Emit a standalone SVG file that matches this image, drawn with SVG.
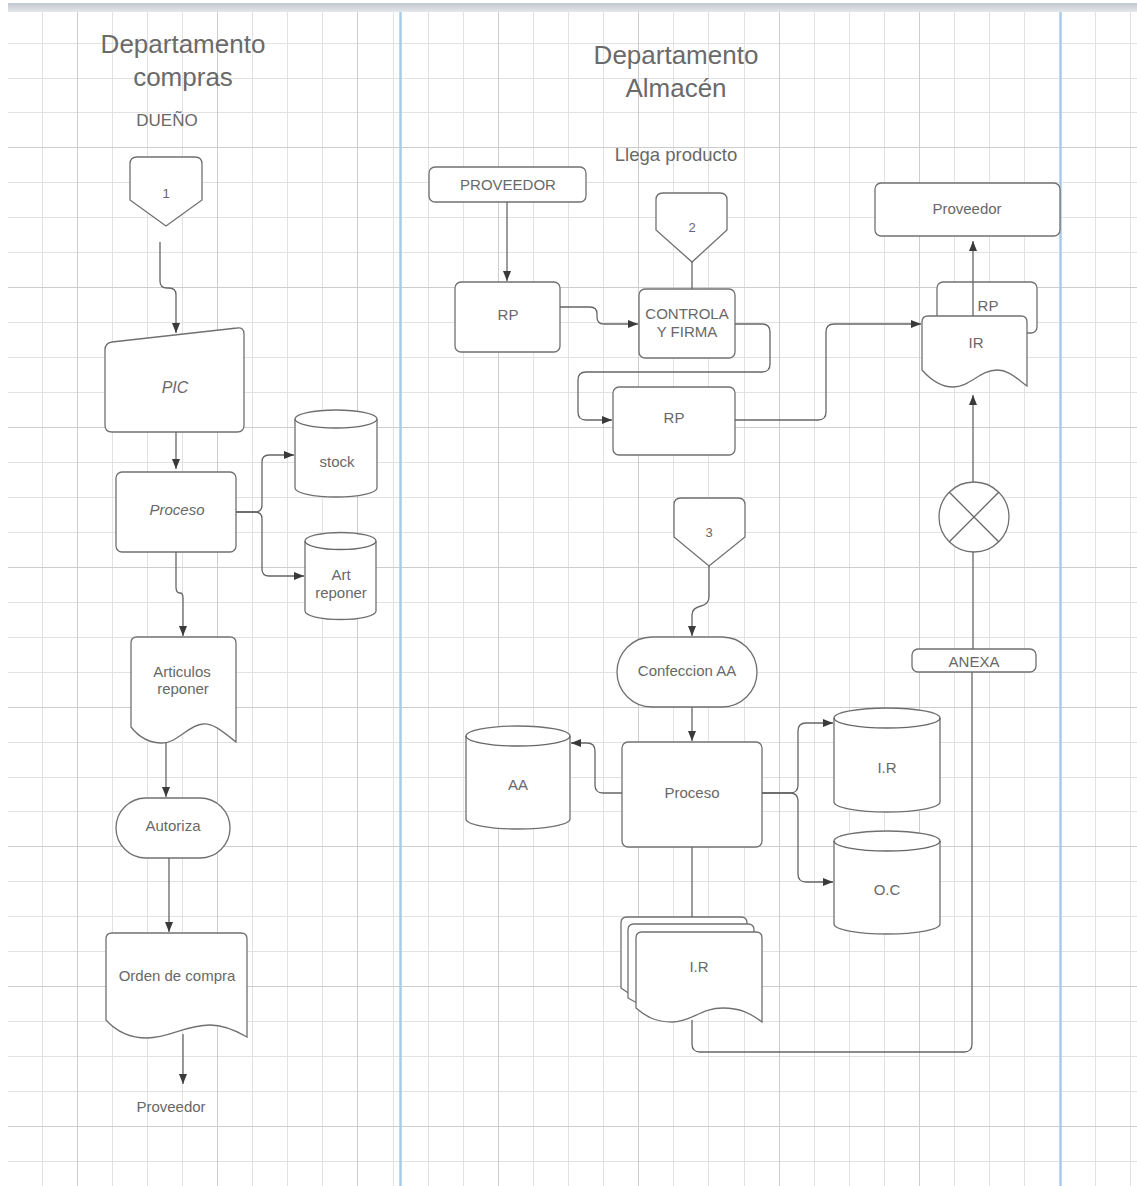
<svg xmlns="http://www.w3.org/2000/svg" width="1137" height="1186" viewBox="0 0 1137 1186">
  <defs>
    <marker id="ah" viewBox="0 0 10 8" refX="10" refY="4" markerWidth="10" markerHeight="8" markerUnits="userSpaceOnUse" orient="auto">
      <path d="M0,0 L10,4 L0,8 Z" fill="#3a3a3a"/>
    </marker>
    <linearGradient id="band" x1="0" y1="0" x2="0" y2="1">
      <stop offset="0" stop-color="#c3c8cf"/>
      <stop offset="1" stop-color="#e4e7eb"/>
    </linearGradient>
  </defs>
  <style>
    .minor { stroke:#e2e2e2; stroke-width:1; fill:none }
    .major { stroke:#cdcdcd; stroke-width:1; fill:none }
    .lane { stroke:#a9cbe9; stroke-width:2.5; fill:none }
    .n { fill:#fff; stroke:#707070; stroke-width:1.3 }
    .t { font-family:"Liberation Sans", Arial, sans-serif; font-size:15px; fill:#686868; text-anchor:middle }
    .h { font-family:"Liberation Sans", Arial, sans-serif; font-size:26px; fill:#6a6a6a; text-anchor:middle }
    .i { font-style:italic }
    .c { fill:none; stroke:#666; stroke-width:1.3; marker-end:url(#ah) }
    .p { fill:none; stroke:#666; stroke-width:1.3 }
  </style>

  <!-- page background and grid -->
  <rect x="0" y="0" width="1137" height="1186" fill="#fff"/>
  <g id="grid">
    <path class="minor" d="M42.5,12V1186 M112.5,12V1186 M147.5,12V1186 M182.5,12V1186 M252.5,12V1186 M287.5,12V1186 M322.5,12V1186 M393.5,12V1186 M428.5,12V1186 M463.5,12V1186 M533.5,12V1186 M568.5,12V1186 M603.5,12V1186 M673.5,12V1186 M708.5,12V1186 M744.5,12V1186 M814.5,12V1186 M849.5,12V1186 M884.5,12V1186 M954.5,12V1186 M989.5,12V1186 M1024.5,12V1186 M1095.5,12V1186 M1130.5,12V1186"/>
    <path class="minor" d="M8,43.5H1137 M8,78.5H1137 M8,112.5H1137 M8,182.5H1137 M8,217.5H1137 M8,252.5H1137 M8,322.5H1137 M8,357.5H1137 M8,392.5H1137 M8,462.5H1137 M8,497.5H1137 M8,532.5H1137 M8,602.5H1137 M8,637.5H1137 M8,672.5H1137 M8,742.5H1137 M8,777.5H1137 M8,811.5H1137 M8,881.5H1137 M8,916.5H1137 M8,951.5H1137 M8,1021.5H1137 M8,1056.5H1137 M8,1091.5H1137 M8,1161.5H1137"/>
    <path class="major" d="M77.5,12V1186 M217.5,12V1186 M357.5,12V1186 M498.5,12V1186 M638.5,12V1186 M779.5,12V1186 M919.5,12V1186"/>
    <path class="major" d="M8,147.5H1137 M8,287.5H1137 M8,427.5H1137 M8,567.5H1137 M8,707.5H1137 M8,846.5H1137 M8,986.5H1137 M8,1126.5H1137"/>
  </g>
  <rect x="8" y="3" width="1129" height="9" fill="url(#band)"/>
  <!-- swimlane dividers -->
  <path class="lane" d="M400.5,12V1186 M1060.5,12V1186"/>

  <!-- lane headings -->
  <g id="headings">
    <text class="h" x="183" y="53">Departamento</text>
    <text class="h" x="183" y="86">compras</text>
    <text class="t" x="167" y="126" style="font-size:17px">DUEÑO</text>
    <text class="h" x="676" y="64">Departamento</text>
    <text class="h" x="676" y="97">Almacén</text>
    <text class="t" x="676" y="161" style="font-size:18.5px">Llega producto</text>
  </g>

  <!-- compras lane -->
  <g id="conector-1">
    <path class="n" d="M130,164 Q130,157 137,157 H195 Q202,157 202,164 V200 L166,226 L130,200 Z"/>
    <text class="t" x="166" y="198" style="font-size:13px">1</text>
  </g>
  <g id="pic">
    <path class="n" d="M105,350 Q105,343 112,342 L237,328 Q244,327 244,334 V425 Q244,432 237,432 H112 Q105,432 105,425 Z"/>
    <text class="t i" x="175" y="393" style="font-size:16px">PIC</text>
  </g>
  <g id="proceso-compras">
    <rect class="n" x="116" y="472" width="120" height="80" rx="6"/>
    <text class="t i" x="177" y="515">Proceso</text>
  </g>
  <g id="stock">
    <path class="n" d="M295,419 A41,9 0 0 1 377,419 V488 A41,9 0 0 1 295,488 Z"/>
    <path class="p" d="M295,419 A41,9 0 0 0 377,419"/>
    <text class="t" x="337" y="467">stock</text>
  </g>
  <g id="art-reponer">
    <path class="n" d="M305,541 A35.5,8.5 0 0 1 376,541 V611 A35.5,8.5 0 0 1 305,611 Z"/>
    <path class="p" d="M305,541 A35.5,8.5 0 0 0 376,541"/>
    <text class="t" x="341" y="580">Art</text>
    <text class="t" x="341" y="598">reponer</text>
  </g>
  <g id="articulos-reponer">
    <path class="n" d="M131,643 Q131,637 137,637 H230 Q236,637 236,643 V742 C222,731 213,723 203,724 C188,725 178,743 162,743 C148,743 138,736 131,727 Z"/>
    <text class="t" x="182" y="677">Articulos</text>
    <text class="t" x="183" y="694">reponer</text>
  </g>
  <g id="autoriza">
    <rect class="n" x="116" y="798" width="114" height="60" rx="30"/>
    <text class="t" x="173" y="831">Autoriza</text>
  </g>
  <g id="orden-compra">
    <path class="n" d="M106,939 Q106,933 112,933 H241 Q247,933 247,939 V1037 C235,1030 224,1025 210,1025 C185,1025 170,1038 147,1038 C128,1038 115,1030 106,1020 Z"/>
    <text class="t" x="177" y="981">Orden de compra</text>
  </g>
  <g id="proveedor-compras">
    <text class="t" x="171" y="1112">Proveedor</text>
  </g>

  <!-- almacén lane -->
  <g id="proveedor-entrada">
    <rect class="n" x="429" y="167" width="157" height="35" rx="6"/>
    <text class="t" x="508" y="190">PROVEEDOR</text>
  </g>
  <g id="rp-recibido">
    <rect class="n" x="455" y="282" width="105" height="70" rx="6"/>
    <text class="t" x="508" y="320">RP</text>
  </g>
  <g id="conector-2">
    <path class="n" d="M656,200 Q656,193 663,193 H720 Q727,193 727,200 V230 L692,262 L656,230 Z"/>
    <text class="t" x="692" y="232" style="font-size:13px">2</text>
  </g>
  <g id="controla-firma">
    <rect class="n" x="639" y="289" width="96" height="69" rx="6"/>
    <text class="t" x="687" y="319">CONTROLA</text>
    <text class="t" x="687" y="337">Y FIRMA</text>
  </g>
  <g id="rp-firmado">
    <rect class="n" x="613" y="387" width="122" height="68" rx="6"/>
    <text class="t" x="674" y="423">RP</text>
  </g>
  <g id="proveedor-salida">
    <rect class="n" x="875" y="183" width="185" height="53" rx="6"/>
    <text class="t" x="967" y="214">Proveedor</text>
  </g>
  <g id="rp-copia">
    <rect class="n" x="937" y="282" width="100" height="51" rx="6"/>
    <text class="t" x="988" y="311">RP</text>
  </g>
  <g id="ir-doc">
    <path class="n" d="M922,322 Q922,316 928,316 H1021 Q1027,316 1027,322 V386 C1015,377 1008,370 997,370 C980,370 970,387 953,387 C940,387 930,379 922,370 Z"/>
    <text class="t" x="976" y="348">IR</text>
  </g>
  <g id="archivo-cruz">
    <circle class="n" cx="974" cy="517" r="35"/>
    <path class="p" d="M949.3,492.3 L998.7,541.7 M998.7,492.3 L949.3,541.7"/>
  </g>
  <g id="anexa">
    <rect class="n" x="912" y="649" width="124" height="23" rx="6"/>
    <text class="t" x="974" y="667">ANEXA</text>
  </g>
  <g id="conector-3">
    <path class="n" d="M674,505 Q674,498 681,498 H738 Q745,498 745,505 V537 L709,566 L674,537 Z"/>
    <text class="t" x="709" y="537" style="font-size:13px">3</text>
  </g>
  <g id="confeccion-aa">
    <rect class="n" x="617" y="637" width="140" height="70" rx="35"/>
    <text class="t" x="687" y="676">Confeccion AA</text>
  </g>
  <g id="proceso-almacen">
    <rect class="n" x="622" y="742" width="140" height="105" rx="6"/>
    <text class="t" x="692" y="798">Proceso</text>
  </g>
  <g id="aa">
    <path class="n" d="M466,736 A52,10 0 0 1 570,736 V819 A52,10 0 0 1 466,819 Z"/>
    <path class="p" d="M466,736 A52,10 0 0 0 570,736"/>
    <text class="t" x="518" y="790">AA</text>
  </g>
  <g id="ir-archivo">
    <path class="n" d="M834,718 A53,10 0 0 1 940,718 V802 A53,10 0 0 1 834,802 Z"/>
    <path class="p" d="M834,718 A53,10 0 0 0 940,718"/>
    <text class="t" x="887" y="773">I.R</text>
  </g>
  <g id="oc-archivo">
    <path class="n" d="M834,841 A53,10 0 0 1 940,841 V924 A53,10 0 0 1 834,924 Z"/>
    <path class="p" d="M834,841 A53,10 0 0 0 940,841"/>
    <text class="t" x="887" y="895">O.C</text>
  </g>
  <g id="ir-copias">
    <path class="n" d="M621,923 Q621,917 627,917 H741 Q747,917 747,923 V1006 C735,998 728,992 718,992 C700,992 690,1006 672,1006 C650,1006 635,998 621,988 Z"/>
    <path class="n" d="M628,930 Q628,924 634,924 H748 Q754,924 754,930 V1014 C742,1005 735,999 725,999 C707,999 697,1014 679,1014 C657,1014 642,1006 628,998 Z"/>
    <path class="n" d="M636,938 Q636,932 642,932 H756 Q762,932 762,938 V1022 C750,1013 740,1008 723,1008 C700,1008 692,1022 672,1022 C655,1022 645,1016 636,1008 Z"/>
    <text class="t" x="699" y="972">I.R</text>
  </g>

  <!-- flow connectors -->
  <g id="connectors">
    <path class="c" d="M160,242 V281 Q160,288 167,288 H169 Q176,288 176,295 V333"/>
    <path class="c" d="M176,432 V469"/>
    <path class="c" d="M236,512 H255 Q262,512 262,505 V462 Q262,455 269,455 H294"/>
    <path class="c" d="M236,512 H255 Q262,512 262,519 V569 Q262,576 269,576 H304"/>
    <path class="c" d="M176,552 V587 Q176,593 180,593 Q183,593 183,598 V636"/>
    <path class="c" d="M166,742 V797"/>
    <path class="c" d="M169,858 V932"/>
    <path class="c" d="M183,1034 V1084"/>

    <path class="c" d="M507,202 V281"/>
    <path class="c" d="M560,307 H590 Q597,307 597,314 V317 Q597,324 604,324 H638"/>
    <path class="p" d="M692,262 V289"/>
    <path class="c" d="M735,324 H762 Q770,324 770,332 V364 Q770,372 762,372 H586 Q578,372 578,380 V412 Q578,420 586,420 H612"/>
    <path class="c" d="M735,420 H818 Q826,420 826,412 V332 Q826,324 834,324 H921"/>
    <path class="c" d="M973,316 V241"/>
    <path class="c" d="M973,482 V395"/>
    <path class="p" d="M973,649 V552"/>
    <path class="p" d="M692,1020 V1044 Q692,1052 700,1052 H964 Q972,1052 972,1044 V672"/>
    <path class="c" d="M709,566 V597 Q709,604 701,606 Q692,608 692,615 V636"/>
    <path class="c" d="M692,707 V741"/>
    <path class="c" d="M622,793 H603 Q595,793 595,785 V751 Q595,743 587,743 H571"/>
    <path class="c" d="M762,793 H790 Q798,793 798,785 V731 Q798,723 806,723 H833"/>
    <path class="c" d="M762,793 H790 Q798,793 798,801 V874 Q798,882 806,882 H833"/>
    <path class="p" d="M692,847 V917"/>
  </g>
</svg>
